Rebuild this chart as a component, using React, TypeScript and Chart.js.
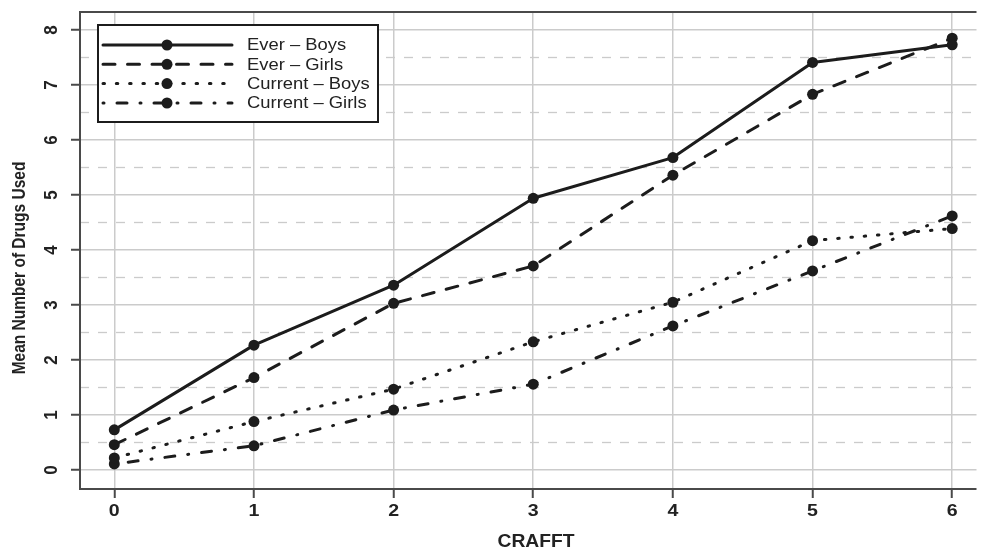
import React, { useEffect, useRef } from "react";
import { Chart, registerables } from "chart.js";

Chart.register(...registerables);

// ---- data ----
const crafftScores = [0, 1, 2, 3, 4, 5, 6];
const everBoys = [0.73, 2.27, 3.36, 4.94, 5.68, 7.41, 7.73];
const everGirls = [0.46, 1.68, 3.03, 3.71, 5.36, 6.83, 7.85];
const currentBoys = [0.22, 0.88, 1.47, 2.33, 3.05, 4.17, 4.39];
const currentGirls = [0.11, 0.44, 1.09, 1.56, 2.62, 3.62, 4.62];
const seriesNames = ["Ever \u2013 Boys", "Ever \u2013 Girls", "Current \u2013 Boys", "Current \u2013 Girls"];
const yTickValues = [0, 1, 2, 3, 4, 5, 6, 7, 8];
const yHalfValues = [0.5, 1.5, 2.5, 3.5, 4.5, 5.5, 6.5, 7.5];
const xTitle = "CRAFFT";
const yTitle = "Mean Number of Drugs Used";

// ---- styles ----
const INK = "#1c1c1c";
const TEXT = "#222222";
const GRID = "#cbcbcb";
const AXIS = "#4a4a4a";
const LW = 3;
const dashes: number[][] = [[], [12, 12.5], [1.5, 11.8], [1, 13, 10, 13]];
const FONT = '"Liberation Sans", Arial, Helvetica, sans-serif';

function drawText(
  ctx: CanvasRenderingContext2D,
  s: string,
  x: number,
  y: number,
  font: string,
  align: CanvasTextAlign,
  sx = 1,
  rot = 0,
  sy = 1
) {
  ctx.save();
  ctx.translate(x, y);
  if (rot) ctx.rotate(rot);
  ctx.scale(sx, sy);
  ctx.font = font;
  ctx.textAlign = align;
  ctx.textBaseline = "middle";
  ctx.fillStyle = TEXT;
  ctx.fillText(s, 0, 0);
  ctx.restore();
}

const customPlugin = {
  id: "customDecor",
  beforeDatasetsDraw(chart: any) {
    const { ctx, chartArea, scales } = chart;
    ctx.save();
    ctx.strokeStyle = GRID;
    ctx.lineWidth = 1.3;
    ctx.setLineDash([9, 9]);
    for (const v of yHalfValues) {
      const py = Math.round(scales.y.getPixelForValue(v)) + 0.5;
      ctx.beginPath();
      ctx.moveTo(chartArea.left, py);
      ctx.lineTo(chartArea.right, py);
      ctx.stroke();
    }
    ctx.restore();
  },
  afterDraw(chart: any) {
    const { ctx, chartArea, scales } = chart;
    // frame (top, left, bottom)
    ctx.save();
    ctx.strokeStyle = AXIS;
    ctx.lineWidth = 2;
    ctx.setLineDash([]);
    ctx.beginPath();
    ctx.moveTo(chartArea.right, chartArea.top);
    ctx.lineTo(chartArea.left, chartArea.top);
    ctx.lineTo(chartArea.left, chartArea.bottom);
    ctx.lineTo(chartArea.right, chartArea.bottom);
    ctx.stroke();
    ctx.restore();

    for (const v of crafftScores) {
      drawText(ctx, String(v), scales.x.getPixelForValue(v), 511, `bold 17px ${FONT}`, "center", 1.15);
    }
    for (const v of yTickValues) {
      drawText(ctx, String(v), 52, scales.y.getPixelForValue(v), `bold 17px ${FONT}`, "center", 1, -Math.PI / 2, 1.1);
    }
    drawText(ctx, xTitle, 536, 542, `bold 18px ${FONT}`, "center", 1.07);
    drawText(ctx, yTitle, 20, 268, `bold 15.5px ${FONT}`, "center", 1, -Math.PI / 2, 1.2);

    // legend
    const bx = 98, by = 25, bw = 280, bh = 97;
    ctx.save();
    ctx.fillStyle = "#ffffff";
    ctx.fillRect(bx, by, bw, bh);
    ctx.strokeStyle = INK;
    ctx.lineWidth = 2;
    ctx.strokeRect(bx, by, bw, bh);
    ctx.restore();
    const rows = [45, 64.3, 83.6, 103];
    chart.data.datasets.forEach((ds: any, i: number) => {
      const ry = rows[i];
      ctx.save();
      ctx.strokeStyle = ds.borderColor;
      ctx.lineWidth = ds.borderWidth;
      ctx.lineCap = "round";
      ctx.setLineDash(ds.borderDash || []);
      ctx.beginPath();
      ctx.moveTo(103, ry);
      ctx.lineTo(232, ry);
      ctx.stroke();
      ctx.setLineDash([]);
      ctx.fillStyle = ds.pointBackgroundColor;
      ctx.beginPath();
      ctx.arc(167, ry, 5.5, 0, Math.PI * 2);
      ctx.fill();
      ctx.restore();
      drawText(ctx, ds.label, 247, ry + 1, `16.3px ${FONT}`, "left", 1.13);
    });
  },
};

export default function App() {
  const ref = useRef<HTMLCanvasElement | null>(null);
  useEffect(() => {
    if (!ref.current) return;
    const seriesValues = [everBoys, everGirls, currentBoys, currentGirls];
    const chart = new Chart(ref.current, {
      type: "line",
      data: {
        datasets: seriesValues.map((vals, i) => ({
          label: seriesNames[i],
          data: vals.map((v, j) => ({ x: crafftScores[j], y: v })),
          borderColor: INK,
          borderWidth: LW,
          borderDash: dashes[i],
          borderCapStyle: "round",
          borderJoinStyle: "round",
          pointRadius: 5.5,
          pointBorderWidth: 0,
          pointBackgroundColor: INK,
          pointBorderColor: INK,
          tension: 0,
          fill: false,
        })),
      },
      options: {
        animation: false,
        responsive: false,
        devicePixelRatio: 1,
        events: [],
        layout: { padding: { top: 12, left: 0, right: 0, bottom: 0 } },
        plugins: { legend: { display: false }, tooltip: { enabled: false }, title: { display: false } },
        scales: {
          x: {
            type: "linear",
            min: -0.2456,
            max: 6.174,
            afterBuildTicks: (s: any) => {
              s.ticks = crafftScores.map((v) => ({ value: v }));
            },
            afterFit: (s: any) => {
              s.height = 59;
            },
            ticks: { display: false },
            grid: { color: GRID, lineWidth: 1.5, drawTicks: true, tickLength: 9, tickColor: AXIS, tickWidth: 2 },
            border: { display: false },
          },
          y: {
            type: "linear",
            min: -0.3455,
            max: 8.327,
            afterBuildTicks: (s: any) => {
              s.ticks = yTickValues.map((v) => ({ value: v }));
            },
            afterFit: (s: any) => {
              s.width = 80;
            },
            ticks: { display: false },
            grid: { color: GRID, lineWidth: 1.5, drawTicks: true, tickLength: 9, tickColor: AXIS, tickWidth: 2 },
            border: { display: false },
          },
        },
      } as any,
      plugins: [customPlugin],
    });
    return () => chart.destroy();
  }, []);
  return (
    <div style={{ position: "fixed", left: 0, top: 0, width: 982, height: 548, background: "#fff" }}>
      <canvas ref={ref} width={982} height={548} style={{ display: "block", width: 982, height: 548 }} />
    </div>
  );
}
